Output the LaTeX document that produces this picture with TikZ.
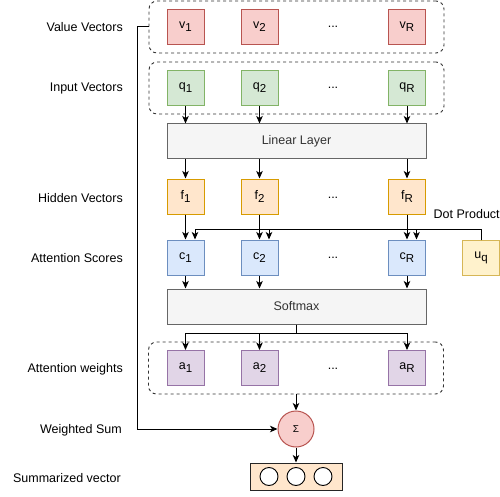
\documentclass[tikz,border=0pt]{standalone}
\usepackage{fontspec}
\setmainfont{Liberation Sans}
\usetikzlibrary{arrows.meta}
\definecolor{redF}{HTML}{F8CECC}\definecolor{redS}{HTML}{B85450}
\definecolor{grnF}{HTML}{D5E8D4}\definecolor{grnS}{HTML}{82B366}
\definecolor{orgF}{HTML}{FFE6CC}\definecolor{orgS}{HTML}{D79B00}
\definecolor{bluF}{HTML}{DAE8FC}\definecolor{bluS}{HTML}{6C8EBF}
\definecolor{purF}{HTML}{E1D5E7}\definecolor{purS}{HTML}{9673A6}
\definecolor{yelF}{HTML}{FFF2CC}\definecolor{yelS}{HTML}{D6B656}
\definecolor{gryF}{HTML}{F5F5F5}\definecolor{gryS}{HTML}{666666}
\definecolor{gryT}{HTML}{333333}
\newcommand\lowr[1]{\raisebox{-0.45ex}{\fontsize{11.5}{13}\selectfont #1}}
\begin{document}
\begin{tikzpicture}[x=1pt,y=-1pt,
  font=\fontsize{12.5}{14}\selectfont,
  cell/.style={draw, line width=1pt, minimum width=37pt, minimum height=35pt, inner sep=0pt},
  vcell/.style={cell, fill=redF, draw=redS},
  qcell/.style={cell, fill=grnF, draw=grnS},
  fcell/.style={cell, fill=orgF, draw=orgS},
  ccell/.style={cell, fill=bluF, draw=bluS},
  acell/.style={cell, fill=purF, draw=purS},
  ucell/.style={cell, fill=yelF, draw=yelS},
  layer/.style={draw=gryS, fill=gryF, text=gryT, line width=1pt, minimum width=259pt, minimum height=35pt, inner sep=0pt},
  group/.style={draw=black!80, dash pattern=on 3pt off 3pt, rounded corners=8pt, line width=0.9pt, minimum width=295pt, minimum height=52pt, inner sep=0pt},
  rowlabel/.style={anchor=east, inner sep=0pt},
  dotc/.style={circle, draw=black, fill=white, line width=0.9pt, minimum size=18pt, inner sep=0pt},
  arr/.style={line width=1pt, -{Stealth[length=7.5pt,width=6.5pt,inset=2pt]}}
]
\useasboundingbox (0,0) rectangle (500,497);

% groups
\node[group] (vg) at (296.5,27) {};
\node[group] (qg) at (296.5,88) {};
\node[group] (ag) at (296,368) {};

% row labels
\node[rowlabel] (l1) at (123,27) {Value Vectors};
\node[rowlabel] (l2) at (123,88) {Input Vectors};
\node[rowlabel] (l3) at (123,198) {Hidden Vectors};
\node[rowlabel] (l4) at (123,258) {Attention Scores};
\node[rowlabel] (l5) at (123,369) {Attention weights};
\node[rowlabel] (l6) at (122,430) {Weighted Sum};
\node[rowlabel] (l7) at (121,478) {Summarized vector};

% value vectors
\node[vcell] (v1) at (185.5,27) {v\lowr{1}};
\node[vcell] (v2) at (259.5,27) {v\lowr{2}};
\node (vd) at (333,27) {...};
\node[vcell] (vR) at (407,27) {v\lowr{R}};

% input vectors
\node[qcell] (q1) at (185.5,88) {q\lowr{1}};
\node[qcell] (q2) at (259.5,88) {q\lowr{2}};
\node (qd) at (333,88) {...};
\node[qcell] (qR) at (407,88) {q\lowr{R}};

% linear layer
\node[layer] (lin) at (296.5,141.5) {Linear Layer};

% hidden
\node[fcell] (f1) at (185.5,196.5) {f\lowr{1}};
\node[fcell] (f2) at (259.5,196.5) {f\lowr{2}};
\node (fd) at (333,198) {...};
\node[fcell] (fR) at (407,196.5) {f\lowr{R}};

% scores
\node[ccell] (c1) at (185.5,257.5) {c\lowr{1}};
\node[ccell] (c2) at (259.5,257.5) {c\lowr{2}};
\node (cd) at (333,258) {...};
\node[ccell] (cR) at (407,257.5) {c\lowr{R}};
\node[ucell] (uq) at (481,258) {u\lowr{q}};
\node[anchor=west, inner sep=0pt] (dp) at (433.5,214) {Dot Product};

% softmax
\node[layer] (sm) at (296.5,306.5) {Softmax};

% weights
\node[acell] (a1) at (185.5,368) {a\lowr{1}};
\node[acell] (a2) at (259.5,368) {a\lowr{2}};
\node (ad) at (333,369) {...};
\node[acell] (aR) at (407,368) {a\lowr{R}};

% sum
\node[circle, draw=redS, fill=redF, line width=1pt, minimum size=36pt, inner sep=0pt, font=\fontsize{10}{12}\selectfont] (sig) at (296,429) {Σ};
\node[draw=black!85, fill=orgF, line width=1pt, minimum width=92pt, minimum height=27pt, inner sep=0pt] (sv) at (296,476.5) {};
\node[dotc] (s1) at (269,476.5) {};
\node[dotc] (s2) at (296,476.5) {};
\node[dotc] (s3) at (323,476.5) {};

% helper coordinates
\coordinate (bus) at (0,229);
\coordinate (sbus) at (0,333);
\coordinate (lft) at (137,27);

% edges
\foreach \n in {1,2,R}{
  \draw[arr] (q\n.south) -- (q\n |- lin.north);
  \draw[arr] (f\n |- lin.south) -- (f\n.north);
  \draw[arr] (f\n.south) -- (c\n.north);
  \draw[arr] (uq.north) -- (uq.north |- bus) -| ([xshift=9.5pt]c\n.north);
  \draw[arr] (c\n.south) -- (c\n |- sm.north);
  \draw[arr] (sm.south) -- (sm.south |- sbus) -| (a\n.north);
}
\draw[arr] (ag.south) -- (sig.north);
\draw[arr] (sig.south) -- (sv.north);
\draw[arr] (vg.west) -- (lft) |- (sig.west);
\end{tikzpicture}
\end{document}
